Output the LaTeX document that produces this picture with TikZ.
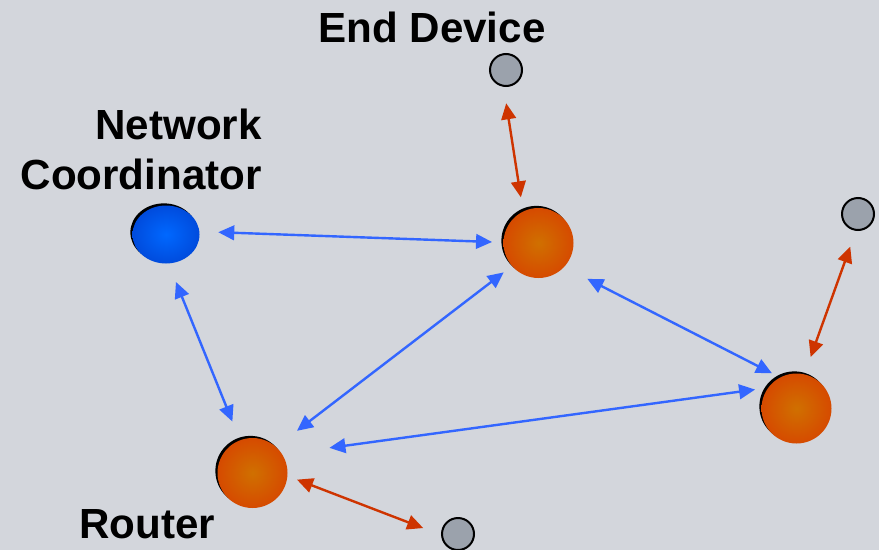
\documentclass[tikz,border=0pt]{standalone}
\usepackage{fontspec}
\setmainfont{Liberation Sans}
\usetikzlibrary{arrows.meta,shapes.geometric,shadows}

\definecolor{bgcol}{RGB}{211,214,220}
\definecolor{linkblue}{RGB}{51,102,255}
\definecolor{leafred}{RGB}{206,52,0}
\definecolor{devgray}{RGB}{155,162,172}
\definecolor{ballin}{RGB}{208,112,0}
\definecolor{ballout}{RGB}{216,58,0}
\definecolor{coordin}{RGB}{0,104,255}
\definecolor{coordout}{RGB}{0,58,200}

\pgfdeclareradialshading{routerball}{\pgfpoint{0bp}{0bp}}{color(0bp)=(ballin); color(36bp)=(ballout); color(50bp)=(ballout)}
\pgfdeclareradialshading{coordball}{\pgfpoint{0bp}{0bp}}{color(0bp)=(coordin); color(40bp)=(coordout); color(50bp)=(coordout)}

\begin{document}
\begin{tikzpicture}[x=0.75pt,y=-0.75pt]
			\tikzstyle{every node}=[inner sep=0pt]
			\tikzstyle{devname}=[font=\bfseries\fontsize{31.6}{37.5}\selectfont]
			\tikzstyle{router}=[circle,minimum size=52.5pt,shade,shading=routerball,
			general shadow={fill=black,shadow xshift=-1.6pt,shadow yshift=1.6pt}]
			\tikzstyle{coordinator}=[ellipse,minimum width=50.25pt,minimum height=43.5pt,
			shade,shading=coordball,
			general shadow={fill=black,shadow xshift=-1.6pt,shadow yshift=1.6pt}]
			\tikzstyle{enddevice}=[circle,minimum size=24pt,draw=black,line width=1.5pt,fill=devgray]
			\tikzstyle{link}=[draw=linkblue,line width=1.8pt,>={Triangle[length=12pt,width=11pt]},<->]
			\tikzstyle{leaflink}=[link,draw=leafred]
			\useasboundingbox[fill=bgcol] (0,0) rectangle (879,550);
			\node[coordinator] (nc) at (166,234.5) {};
			\node[router] (rt) at (538.5,243) {};
			\node[router] (rbl) at (252.5,473) {};
			\node[router] (rr) at (796.5,408.5) {};
			\node[enddevice] (et) at (506,70) {};
			\node[enddevice] (er) at (858,214) {};
			\node[enddevice] (eb) at (458,534) {};
			\node[devname,anchor=base] (tend) at (432,42) {End Device};
			\node[devname,anchor=north east,align=right] (tcoord) at (262,109) {Network\\Coordinator};
			\node[devname,anchor=base west] (trouter) at (79,538) {Router};
			\draw[link,shorten <=14pt,shorten >=8.4pt] (nc.5.5) -- (rt.179.5);
			\draw[link,shorten <=14.8pt,shorten >=15pt] (nc.-85.5) -- (rbl.111.2);
			\draw[link,shorten <=7.7pt,shorten >=19.7pt] (rt.221.2) -- (rbl.48.1);
			\draw[link,shorten <=19.4pt,shorten >=6.7pt] (rt.-43.8) -- (rr.118.2);
			\draw[link,shorten <=9.75pt,shorten >=35.6pt] (rr.144.1) -- (rbl.32.7);
			\draw[leaflink,shorten <=12.5pt,shorten >=10.6pt] (et.-98.8) -- (rt.116.4);
			\draw[leaflink,shorten <=12.6pt,shorten >=13.7pt] (er.-97.8) -- (rr.77.8);
			\draw[leaflink,shorten <=7.5pt,shorten >=14.3pt] (rbl.-5.6) -- (eb.183.7);
\end{tikzpicture}
\end{document}
